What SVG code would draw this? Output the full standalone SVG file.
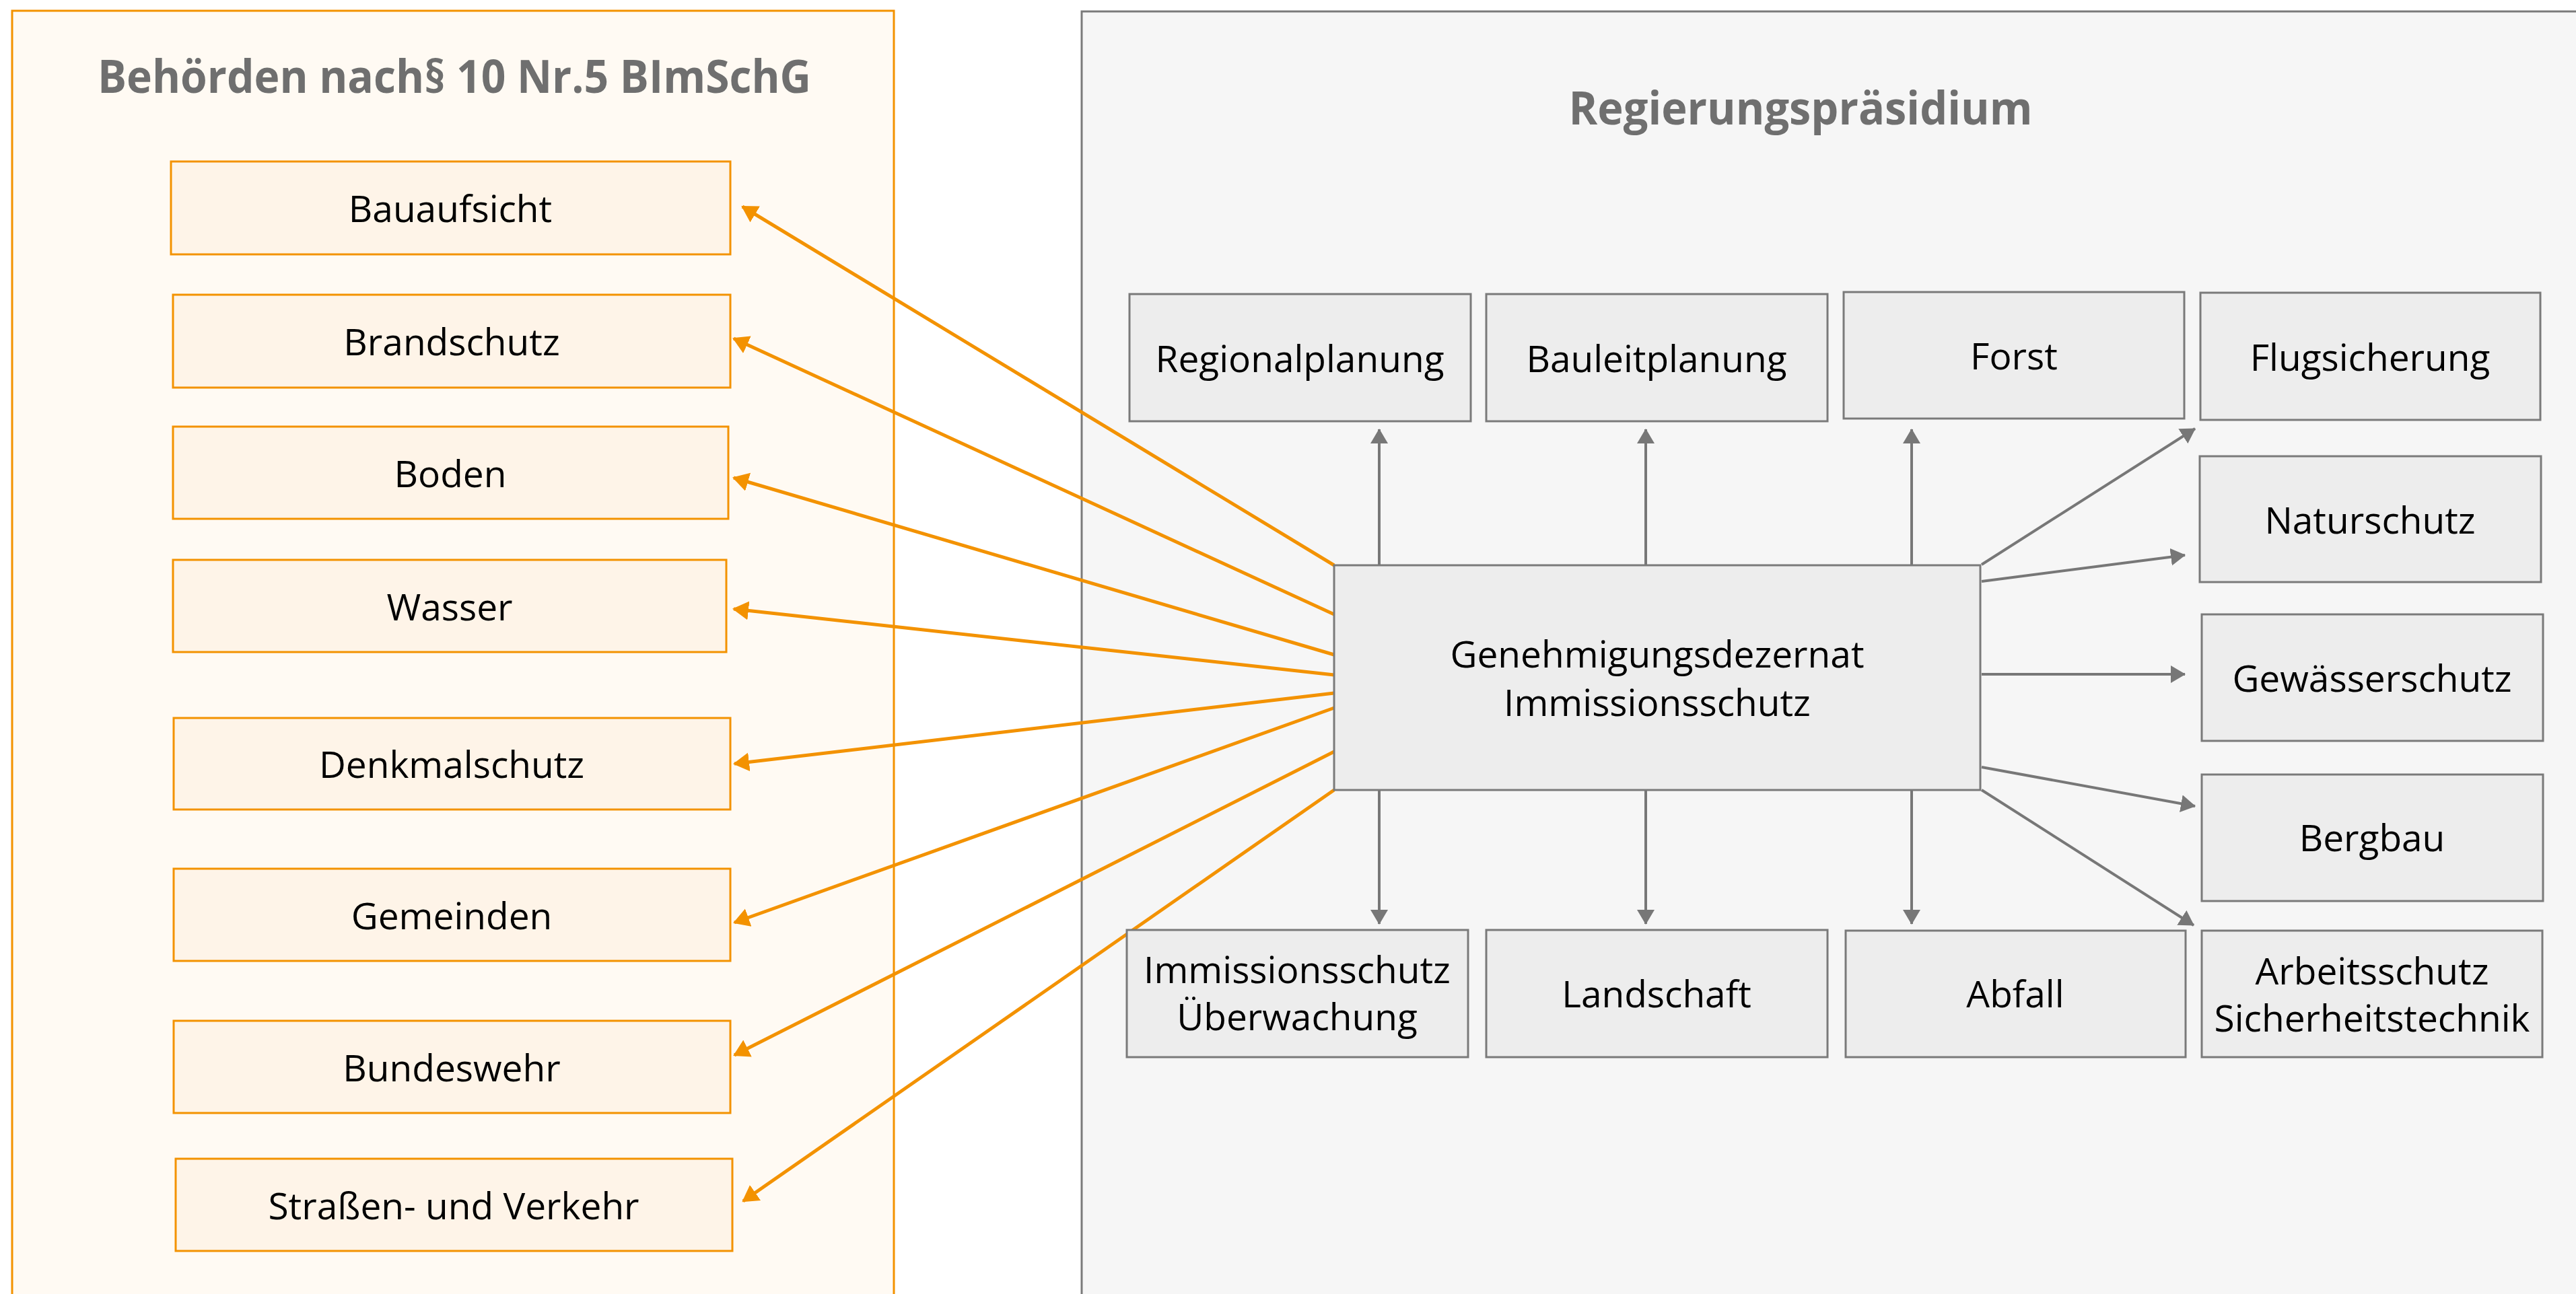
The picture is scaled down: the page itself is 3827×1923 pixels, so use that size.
<svg xmlns="http://www.w3.org/2000/svg" width="3827" height="1923" viewBox="0 0 3827 1923">
<style>
.t{font-family:"Open Sans","Noto Sans","Liberation Sans",sans-serif;font-size:55px;fill:#000;text-anchor:middle}
.title{font-family:"Open Sans","Noto Sans","Liberation Sans",sans-serif;font-size:68px;font-weight:bold;fill:#6f6f6f;text-anchor:middle}
.ob{fill:#fef4e8;stroke:#f39200;stroke-width:3}
.gb{fill:#ededed;stroke:#7a7a7a;stroke-width:3}
.oc{stroke:#f39200;stroke-width:5;fill:none;marker-end:url(#ao)}
.gc{stroke:#777;stroke-width:4;fill:none;marker-end:url(#ag)}
</style>
<defs>
<marker id="ao" markerUnits="userSpaceOnUse" markerWidth="26" markerHeight="30" refX="22" refY="14" orient="auto"><path d="M0,0 L24,14 L0,28 z" fill="#f39200"/></marker>
<marker id="ag" markerUnits="userSpaceOnUse" markerWidth="24" markerHeight="28" refX="21" refY="13" orient="auto"><path d="M0,0 L22,13 L0,26 z" fill="#777"/></marker>
</defs>
<rect width="3827" height="1923" fill="#fff"/>
<g id="behoerden">
<rect x="18" y="16" width="1310" height="1940" fill="#fffaf3" stroke="#f39200" stroke-width="3"/>
<text class="title" x="675" y="138" textLength="1060" lengthAdjust="spacingAndGlyphs">Behörden nach§ 10 Nr.5 BImSchG</text>
</g>
<g id="rp">
<rect x="1607" y="17" width="2260" height="1940" fill="#f6f6f6" stroke="#7a7a7a" stroke-width="3"/>
<text class="title" x="2675" y="185" textLength="689" lengthAdjust="spacingAndGlyphs">Regierungspräsidium</text>
</g>
<g id="connectors">
<line class="oc" x1="1982" y1="840" x2="1103" y2="307"/>
<line class="oc" x1="1982" y1="913" x2="1090" y2="503"/>
<line class="oc" x1="1982" y1="973" x2="1090" y2="710"/>
<line class="oc" x1="1982" y1="1003" x2="1090" y2="905"/>
<line class="oc" x1="1982" y1="1030" x2="1091" y2="1135"/>
<line class="oc" x1="1982" y1="1052" x2="1091" y2="1371"/>
<line class="oc" x1="1982" y1="1117" x2="1091" y2="1568"/>
<line class="oc" x1="1982" y1="1174" x2="1104" y2="1785"/>
<line class="gc" x1="2049" y1="840" x2="2049" y2="638"/>
<line class="gc" x1="2445" y1="840" x2="2445" y2="638"/>
<line class="gc" x1="2840" y1="840" x2="2840" y2="638"/>
<line class="gc" x1="2049" y1="1174" x2="2049" y2="1373"/>
<line class="gc" x1="2445" y1="1174" x2="2445" y2="1373"/>
<line class="gc" x1="2840" y1="1174" x2="2840" y2="1373"/>
<line class="gc" x1="2944" y1="839" x2="3261" y2="637"/>
<line class="gc" x1="2944" y1="864" x2="3246" y2="825"/>
<line class="gc" x1="2944" y1="1002" x2="3246" y2="1002"/>
<line class="gc" x1="2944" y1="1140" x2="3261" y2="1198"/>
<line class="gc" x1="2944" y1="1174" x2="3259" y2="1375"/>
</g>
<g id="bauaufsicht"><rect class="ob" x="254" y="240" width="831" height="138"/><text class="t" x="669" y="330">Bauaufsicht</text></g>
<g id="brandschutz"><rect class="ob" x="257" y="438" width="828" height="138"/><text class="t" x="671" y="528">Brandschutz</text></g>
<g id="boden"><rect class="ob" x="257" y="634" width="825" height="137"/><text class="t" x="669" y="724">Boden</text></g>
<g id="wasser"><rect class="ob" x="257" y="832" width="822" height="137"/><text class="t" x="668" y="922">Wasser</text></g>
<g id="denkmalschutz"><rect class="ob" x="258" y="1067" width="827" height="136"/><text class="t" x="671" y="1156">Denkmalschutz</text></g>
<g id="gemeinden"><rect class="ob" x="258" y="1291" width="827" height="137"/><text class="t" x="671" y="1381">Gemeinden</text></g>
<g id="bundeswehr"><rect class="ob" x="258" y="1517" width="827" height="137"/><text class="t" x="671" y="1607">Bundeswehr</text></g>
<g id="strassen"><rect class="ob" x="261" y="1722" width="827" height="137"/><text class="t" x="674" y="1812">Straßen- und Verkehr</text></g>
<g id="genehmigung"><rect class="gb" x="1982" y="840" width="960" height="334"/><text class="t" x="2462" y="992">Genehmigungsdezernat</text><text class="t" x="2462" y="1064">Immissionsschutz</text></g>
<g id="regionalplanung"><rect class="gb" x="1678" y="437" width="507" height="189"/><text class="t" x="1931" y="553">Regionalplanung</text></g>
<g id="bauleitplanung"><rect class="gb" x="2208" y="437" width="507" height="189"/><text class="t" x="2461" y="553">Bauleitplanung</text></g>
<g id="forst"><rect class="gb" x="2739" y="434" width="506" height="188"/><text class="t" x="2992" y="549">Forst</text></g>
<g id="flugsicherung"><rect class="gb" x="3269" y="435" width="505" height="189"/><text class="t" x="3521" y="551">Flugsicherung</text></g>
<g id="naturschutz"><rect class="gb" x="3268" y="678" width="507" height="187"/><text class="t" x="3521" y="793">Naturschutz</text></g>
<g id="gewaesserschutz"><rect class="gb" x="3271" y="913" width="507" height="188"/><text class="t" x="3524" y="1028">Gewässerschutz</text></g>
<g id="bergbau"><rect class="gb" x="3271" y="1151" width="507" height="188"/><text class="t" x="3524" y="1265">Bergbau</text></g>
<g id="arbeitsschutz"><rect class="gb" x="3271" y="1383" width="506" height="188"/><text class="t" x="3524" y="1463">Arbeitsschutz</text><text class="t" x="3524" y="1533">Sicherheitstechnik</text></g>
<g id="immissionsueberwachung"><rect class="gb" x="1674" y="1382" width="507" height="189"/><text class="t" x="1927" y="1461">Immissionsschutz</text><text class="t" x="1927" y="1531">Überwachung</text></g>
<g id="landschaft"><rect class="gb" x="2208" y="1382" width="507" height="189"/><text class="t" x="2461" y="1497">Landschaft</text></g>
<g id="abfall"><rect class="gb" x="2742" y="1383" width="505" height="188"/><text class="t" x="2994" y="1497">Abfall</text></g>
</svg>
